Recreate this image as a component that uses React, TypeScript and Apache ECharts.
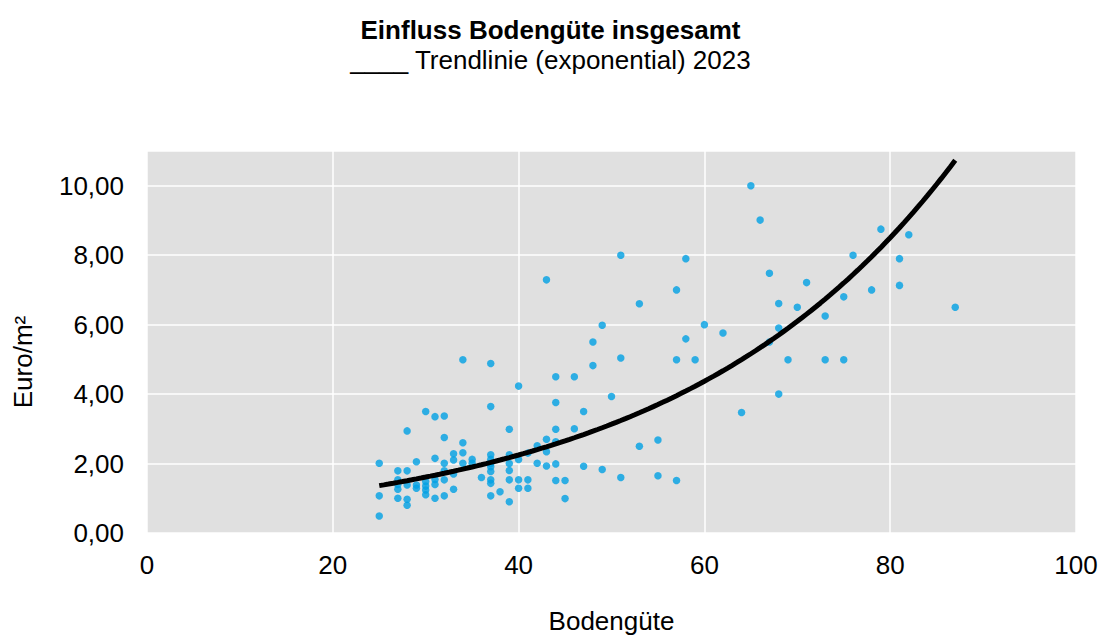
import React, { useEffect, useRef } from "react";
import * as echarts from "echarts";

const bodenguete: number[] = [
  25, 25, 25,
  27, 27, 27, 27, 27,
  28, 28, 28, 28, 28,
  29, 29, 29,
  30, 30, 30, 30, 30,
  31, 31, 31, 31, 31,
  32, 32, 32, 32, 32, 32,
  33, 33, 33, 33,
  34, 34, 34, 34,
  35, 35,
  36,
  37, 37, 37, 37, 37, 37, 37, 37, 37, 37,
  38,
  39, 39, 39, 39, 39, 39,
  40, 40, 40, 40,
  41, 41, 41,
  42, 42,
  43, 43, 43, 43,
  44, 44, 44, 44, 44, 44,
  45, 45,
  46, 46,
  47, 47,
  48, 48,
  49, 49,
  50,
  51, 51, 51,
  53, 53,
  55, 55,
  57, 57, 57,
  58, 58,
  59,
  60,
  62,
  64,
  65,
  66,
  67, 67,
  68, 68, 68,
  69,
  70,
  71,
  73, 73,
  75, 75,
  76,
  78,
  79,
  81, 81,
  82,
  87,
];
const euroProQm: number[] = [
  2.01, 1.07, 0.49,
  1.79, 1.53, 1.4, 1.26, 1.0,
  2.94, 1.79, 1.38, 0.97, 0.8,
  2.05, 1.38, 1.29,
  3.5, 1.48, 1.35, 1.24, 1.1,
  3.35, 2.15, 1.54, 1.4, 1.0,
  3.37, 2.75, 2.01, 1.79, 1.53, 1.07,
  2.28, 2.1, 1.7, 1.26,
  4.99, 2.6, 2.31, 2.01,
  2.12, 2.01,
  1.6,
  4.88, 3.64, 2.25, 2.12, 2.0, 1.91, 1.77, 1.53, 1.43, 1.07,
  1.19,
  2.99, 2.25, 2.0, 1.8, 1.53, 0.9,
  4.23, 2.12, 1.53, 1.29,
  2.3, 1.53, 1.29,
  2.51, 2.01,
  7.29, 2.7, 2.34, 1.93,
  4.5, 3.76, 2.99, 2.63, 1.99, 1.51,
  1.51, 0.99,
  4.5, 3.0,
  3.5, 1.92,
  5.5, 4.82,
  5.98, 1.83,
  3.93,
  8.0, 5.04, 1.6,
  6.6, 2.5,
  2.68, 1.65,
  7.0, 4.99, 1.51,
  7.9, 5.59,
  4.99,
  6.0,
  5.76,
  3.47,
  10.0,
  9.01,
  7.48, 5.5,
  6.61, 5.9, 4.0,
  4.99,
  6.5,
  7.21,
  6.25, 4.99,
  6.8, 4.99,
  8.0,
  7.0,
  8.75,
  7.9, 7.13,
  8.59,
  6.5,
];

const xTicks = [0, 20, 40, 60, 80, 100];
const yTicks = [0, 2, 4, 6, 8, 10];

const titleText = "Einfluss Bodengüte insgesamt";
const subtitleText = "____ Trendlinie (exponential) 2023";
const xName = "Bodengüte";
const yName = "Euro/m²";

const FONT = "'Liberation Sans', Arial, sans-serif";
const FS = 26;

// exponential least-squares fit (ln y = ln a + b x), as a spreadsheet trendline does
function expFit(xs: number[], ys: number[]) {
  const n = xs.length;
  let sx = 0, sy = 0, sxx = 0, sxy = 0;
  for (let i = 0; i < n; i++) {
    const ly = Math.log(ys[i]);
    sx += xs[i];
    sy += ly;
    sxx += xs[i] * xs[i];
    sxy += xs[i] * ly;
  }
  const b = (n * sxy - sx * sy) / (n * sxx - sx * sx);
  const lnA = (sy - b * sx) / n;
  return { a: Math.exp(lnA), b };
}

export default function App() {
  const ref = useRef<HTMLDivElement>(null);
  useEffect(() => {
    if (!ref.current) return;
    const chart = echarts.init(ref.current, undefined, { renderer: "svg" });
    const points = bodenguete.map((x, i) => [x, euroProQm[i]]);
    const { a, b } = expFit(bodenguete, euroProQm);
    const xMin = Math.min(...bodenguete);
    const xMax = Math.max(...bodenguete);
    const trend: number[][] = [];
    for (let x = xMin; x <= xMax + 1e-9; x += 0.5) trend.push([x, a * Math.exp(b * x)]);

    chart.setOption({
      animation: false,
      backgroundColor: "#ffffff",
      textStyle: { fontFamily: FONT },
      title: [
        {
          text: titleText,
          left: "center",
          top: 12,
          textStyle: { fontFamily: FONT, fontSize: FS, fontWeight: "bold", color: "#000" },
        },
        {
          text: subtitleText,
          left: "center",
          top: 42,
          textStyle: { fontFamily: FONT, fontSize: FS, fontWeight: "normal", color: "#000" },
        },
      ],
      grid: {
        left: 147,
        right: 25,
        top: 151,
        bottom: 103,
        show: true,
        backgroundColor: "#e0e0e0",
        borderWidth: 0,
        containLabel: false,
        outerBoundsMode: "none",
      },
      xAxis: {
        type: "value",
        min: xTicks[0],
        max: xTicks[xTicks.length - 1],
        interval: xTicks[1] - xTicks[0],
        name: xName,
        nameLocation: "middle",
        nameGap: 75,
        nameTextStyle: { fontFamily: FONT, fontSize: FS, color: "#000" },
        axisLine: { show: false },
        axisTick: { show: false },
        axisLabel: { fontFamily: FONT, fontSize: FS, color: "#000", margin: 19 },
        splitLine: { show: true, lineStyle: { color: "#ffffff", width: 1.5 } },
      },
      yAxis: {
        type: "value",
        min: yTicks[0],
        max: 11,
        interval: yTicks[1] - yTicks[0],
        axisLine: { show: false },
        axisTick: { show: false },
        axisLabel: {
          fontFamily: FONT,
          fontSize: FS,
          color: "#000",
          margin: 23,
          formatter: (v: number) => (yTicks.includes(v) ? v.toFixed(2).replace(".", ",") : ""),
        },
        splitLine: { show: true, lineStyle: { color: "#ffffff", width: 1.5 } },
      },
      graphic: [
        {
          type: "text",
          x: 23,
          y: 362,
          rotation: Math.PI / 2,
          style: {
            text: yName,
            fontFamily: FONT,
            fontSize: FS,
            fill: "#000",
            align: "center",
            verticalAlign: "middle",
          },
        },
      ],
      series: [
        {
          type: "scatter",
          data: points,
          symbol: "circle",
          symbolSize: 7.5,
          itemStyle: { color: "#00a0e3" },
          z: 2,
        },
        {
          type: "line",
          data: trend,
          showSymbol: false,
          smooth: false,
          lineStyle: { color: "#000000", width: 5 },
          z: 3,
        },
      ],
    });
    return () => chart.dispose();
  }, []);
  return (
    <div
      ref={ref}
      style={{ position: "fixed", left: 0, top: 0, width: 1101, height: 636 }}
    />
  );
}
